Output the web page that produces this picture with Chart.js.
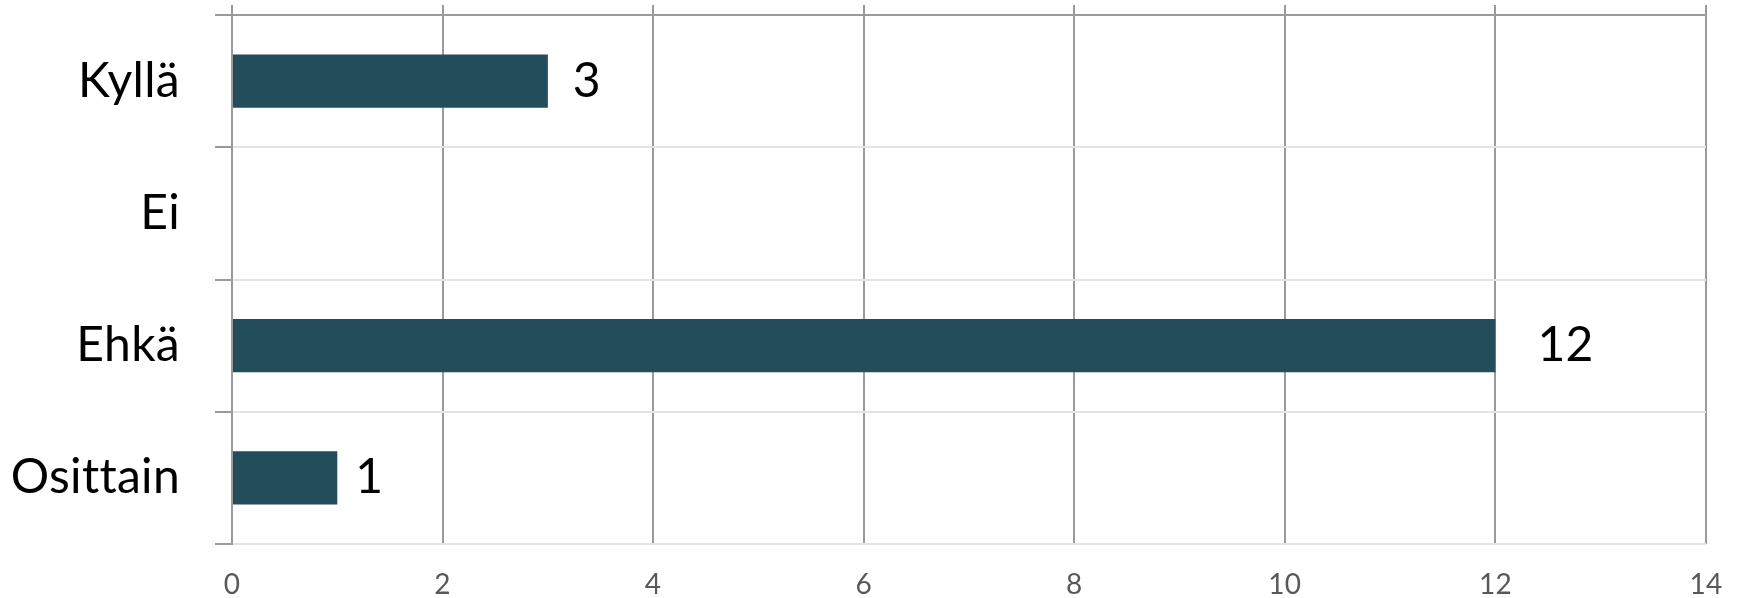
<!DOCTYPE html>
<html>
<head>
<meta charset="utf-8">
<style>
  html, body { margin: 0; padding: 0; background: #ffffff; }
  canvas { display: block; }
</style>
<script src="https://cdn.jsdelivr.net/npm/chart.js@4.4.1/dist/chart.umd.min.js"></script>
</head>
<body>
<canvas id="c" width="1739" height="598"></canvas>
<script>
// ---- data ----
const categories = ["Kyllä", "Ei", "Ehkä", "Osittain"];
const values = [3, null, 12, 1];
const xMin = 0;
const xMax = 14;
const xStep = 2;

// ---- styles ----
const barColor = "#234D5B";
const darkLine = "#9a9a9a";
const lightLine = "#e4e4e4";
const FONT = "Lato, 'Open Sans', 'DejaVu Sans', sans-serif";
const labelGap = [25, 25, 42, 18];

// turn off typographic ligatures (e.g. "tt") so text looks like the reference
const noLigatures = {
  id: "noLigatures",
  beforeDraw(chart) {
    try { chart.ctx.letterSpacing = "0.3px"; } catch (e) {}
  }
};

const valueLabels = {
  id: "valueLabels",
  afterDatasetsDraw(chart) {
    const ctx = chart.ctx;
    const meta = chart.getDatasetMeta(0);
    ctx.save();
    ctx.font = "48px " + FONT;
    ctx.fillStyle = "#000000";
    ctx.textAlign = "left";
    ctx.textBaseline = "middle";
    meta.data.forEach((bar, i) => {
      const v = values[i];
      if (v === null || v === undefined) return;
      ctx.fillText(String(v), bar.x + labelGap[i], bar.y);
    });
    ctx.restore();
  }
};

function build() {
  Chart.defaults.font.family = FONT;
  new Chart(document.getElementById("c"), {
    type: "bar",
    data: {
      labels: categories,
      datasets: [{
        data: values,
        backgroundColor: barColor,
        borderWidth: 0,
        categoryPercentage: 1.0,
        barPercentage: 0.403
      }]
    },
    options: {
      indexAxis: "y",
      responsive: false,
      animation: false,
      devicePixelRatio: 1,
      layout: { padding: { left: 0, right: 33, top: 0, bottom: 0 } },
      plugins: { legend: { display: false }, tooltip: { enabled: false } },
      scales: {
        x: {
          type: "linear",
          position: "bottom",
          min: xMin, max: xMax,
          ticks: { stepSize: xStep, color: "#595959", font: { size: 28, family: FONT }, padding: 24 },
          grid: { color: darkLine, lineWidth: 2, drawTicks: false },
          border: { display: false },
          afterFit(scale) { scale.height = 54; scale.paddingLeft = 0; scale.paddingRight = 0; }
        },
        x2: {
          type: "linear",
          position: "top",
          min: xMin, max: xMax,
          ticks: { stepSize: xStep, display: false },
          grid: { color: darkLine, lineWidth: 2, drawOnChartArea: false, drawTicks: true, tickLength: 10 },
          border: { display: false },
          afterFit(scale) { scale.height = 15; scale.paddingLeft = 0; scale.paddingRight = 0; }
        },
        y: {
          type: "category",
          position: "left",
          offset: true,
          ticks: { color: "#000000", font: { size: 48, family: FONT }, padding: 35 },
          grid: {
            offset: true,
            lineWidth: 2,
            tickLength: 17,
            tickColor: darkLine,
            color: (ctx) => (ctx.index === 0 ? darkLine : lightLine)
          },
          border: { display: true, color: darkLine, width: 2 },
          afterFit(scale) { scale.width = 232; scale.paddingTop = 0; scale.paddingBottom = 0; }
        }
      }
    },
    plugins: [noLigatures, valueLabels]
  });
}

if (document.fonts && document.fonts.load) {
  Promise.all([
    document.fonts.load("48px Lato"),
    document.fonts.load("28px Lato")
  ]).then(build, build);
} else {
  build();
}
</script>
</body>
</html>
